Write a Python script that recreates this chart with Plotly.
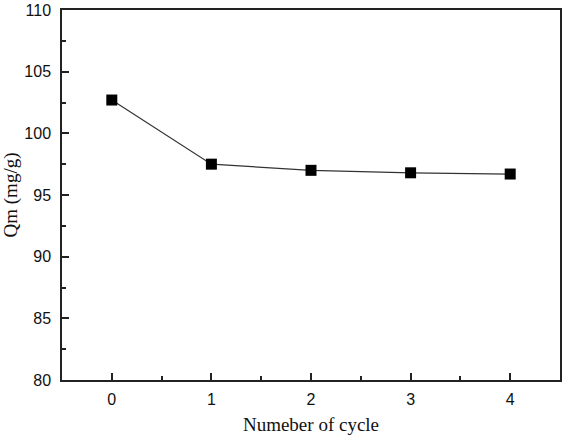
import plotly.graph_objects as go

# cycle number vs adsorption capacity
cycles = [0, 1, 2, 3, 4]
qm = [102.7, 97.5, 97.0, 96.8, 96.7]

fig = go.Figure(data=go.Scatter(x=cycles, y=qm,
                                mode='markers+lines',
                                line=dict(color='#333333', width=1.2),
                                marker=dict(symbol='square', size=11, color='black'),
                                showlegend=False))

axis_common = dict(showline=True, linecolor='#222222', linewidth=1.5, mirror=True,
                   ticks='inside', tickcolor='#222222', tickwidth=1.5, ticklen=7,
                   showgrid=False, zeroline=False, automargin=False,
                   tickfont=dict(family='Liberation Sans, Arial', size=16, color='#111111'))

fig.update_xaxes(range=[-0.5, 4.5], tickvals=cycles, ticklabelstandoff=4,
                 minor=dict(ticks='inside', dtick=0.5, tick0=0.5, ticklen=4,
                            tickwidth=1.5, tickcolor='#222222'),
                 title=dict(text='Numeber of cycle', standoff=11,
                            font=dict(family='Liberation Serif, Times New Roman', size=19, color='#111111')),
                 **axis_common)
fig.update_yaxes(range=[80, 110], dtick=5, ticklabelstandoff=6,
                 minor=dict(ticks='inside', dtick=2.5, ticklen=4,
                            tickwidth=1.5, tickcolor='#222222'),
                 title=dict(text='Qm (mg/g)', standoff=13,
                            font=dict(family='Liberation Serif, Times New Roman', size=19, color='#111111')),
                 **axis_common)

fig.update_layout(width=563, height=437,
                  margin=dict(l=62, r=3, t=10, b=57),
                  plot_bgcolor='white', paper_bgcolor='white')

# drop the default page margin so the figure sits at the window corner
fig.write_html("out.html", config={'displayModeBar': False},
               post_script="document.body.style.margin='0';")
